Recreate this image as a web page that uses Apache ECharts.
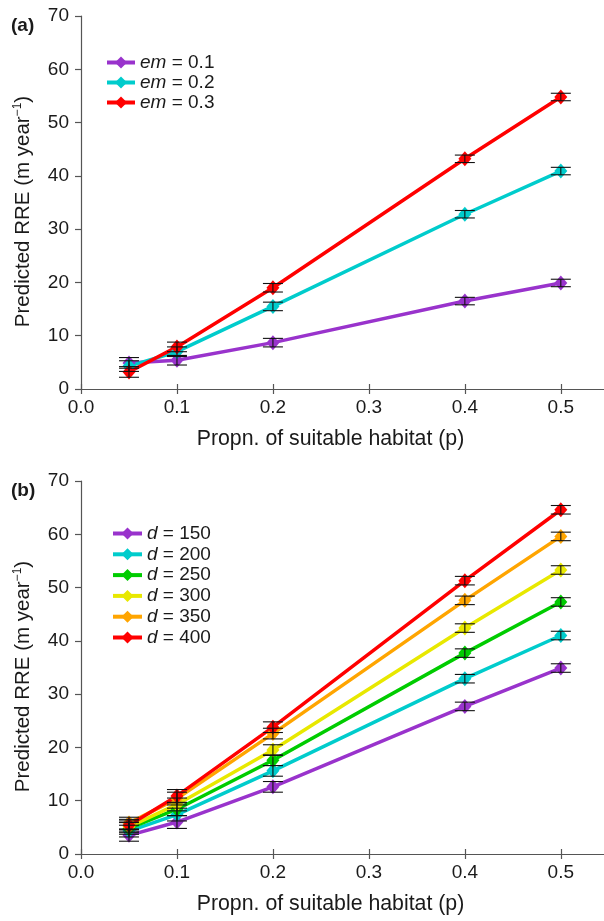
<!DOCTYPE html>
<html><head><meta charset="utf-8">
<script src="https://cdn.jsdelivr.net/npm/echarts@6/dist/echarts.min.js"></script>
<style>html,body{margin:0;padding:0;background:#fff}#c{width:604px;height:921px}</style>
</head><body><div id="c"></div>
<script>
// x categories (proportion of suitable habitat)
const pVals = [0.05, 0.1, 0.2, 0.4, 0.5];
const xTicks = [0.0, 0.1, 0.2, 0.3, 0.4, 0.5];
const yTicks = [0, 10, 20, 30, 40, 50, 60, 70];

// Panel (a)
const namesA = ['em = 0.1', 'em = 0.2', 'em = 0.3'];
const em01 = [4.9, 5.4, 8.7, 16.5, 19.9];
const em02 = [4.3, 7.0, 15.5, 32.8, 40.9];
const em03 = [3.2, 7.9, 19.0, 43.2, 54.8];
const errA01 = [1.0, 0.9, 0.8, 0.7, 0.7];
const errA02 = [1.0, 0.9, 0.8, 0.7, 0.7];
const errA03 = [1.0, 0.9, 0.8, 0.7, 0.7];

// Panel (b)
const namesB = ['d = 150', 'd = 200', 'd = 250', 'd = 300', 'd = 350', 'd = 400'];
const d150 = [3.5, 6.0, 12.6, 27.7, 34.9];
const d200 = [4.3, 7.4, 15.6, 32.9, 41.0];
const d250 = [4.8, 8.4, 17.6, 37.7, 47.3];
const d300 = [5.1, 9.3, 19.5, 42.4, 53.3];
const d350 = [5.8, 10.4, 22.6, 47.6, 59.6];
const d400 = [5.4, 10.9, 23.8, 51.3, 64.6];
const errB = [1.1, 1.2, 1.0, 0.8, 0.8];

const colorsA = ['#9933CC', '#00CCCC', '#FF0000'];
const colorsB = ['#9933CC', '#00CCCC', '#00CC00', '#E8E800', '#FFA500', '#FF0000'];

const FONT = 'Liberation Sans, Arial, sans-serif';
const TXT = '#1a1a1a';
const AX = '#555';
const XMAX = 0.545;

const chart = echarts.init(document.getElementById('c'), null, {renderer: 'canvas'});

function xAxisDef(gi, withLabel) {
  return {
    type: 'value', gridIndex: gi, min: 0, max: XMAX, interval: 0.1, position: 'bottom',
    axisLine: {show: withLabel, onZero: false, lineStyle: {color: AX, width: 1.2}},
    axisTick: {show: true, inside: !withLabel, length: 5, customValues: xTicks,
      lineStyle: {color: AX, width: 1.2}},
    axisLabel: withLabel ? {show: true, color: TXT, fontSize: 19, fontFamily: FONT, margin: 9,
      customValues: xTicks, formatter: v => v.toFixed(1)} : {show: false},
    splitLine: {show: false},
    name: withLabel ? 'Propn. of suitable habitat (p)' : '',
    nameLocation: 'middle', nameGap: 40,
    nameTextStyle: {color: TXT, fontSize: 21.3, fontFamily: FONT, padding: [0, 24, 0, 0]}
  };
}
function yAxisDef(gi) {
  return {
    type: 'value', gridIndex: gi, min: 0, max: 70, interval: 10,
    axisLine: {show: true, lineStyle: {color: AX, width: 1.2}},
    axisTick: {show: true, length: 6, lineStyle: {color: AX, width: 1.2}},
    axisLabel: {color: TXT, fontSize: 19, fontFamily: FONT, margin: 12},
    splitLine: {show: false},
    name: '{a|Predicted RRE (m year}{s|−1}{a|)}',
    nameLocation: 'middle', nameGap: 47,
    nameTextStyle: {padding: [0, 18, 0, 0], rich: {
      a: {color: TXT, fontSize: 20.5, fontFamily: FONT, lineHeight: 22, verticalAlign: 'bottom'},
      s: {color: TXT, fontSize: 12, fontFamily: FONT, lineHeight: 22, verticalAlign: 'top'}
    }}
  };
}

function lineSeries(name, vals, color, xi, yi) {
  return {
    type: 'line', name: name, xAxisIndex: xi, yAxisIndex: yi,
    data: pVals.map((p, i) => [p, vals[i]]),
    symbol: 'diamond', symbolSize: [13, 15],
    itemStyle: {color: color}, lineStyle: {color: color, width: 3.5},
    z: 2
  };
}
function errSeries(vals, errs, xi, yi) {
  return {
    type: 'custom', xAxisIndex: xi, yAxisIndex: yi, silent: true, z: 5,
    data: pVals.map((p, i) => [p, vals[i] - errs[i], vals[i] + errs[i]]),
    renderItem: function (params, api) {
      const lo = api.coord([api.value(0), api.value(1)]);
      const hi = api.coord([api.value(0), api.value(2)]);
      const hw = 10;
      const st = {stroke: '#111', lineWidth: 1.1};
      return {type: 'group', children: [
        {type: 'line', shape: {x1: lo[0], y1: lo[1], x2: hi[0], y2: hi[1]}, style: st},
        {type: 'line', shape: {x1: lo[0] - hw, y1: lo[1], x2: lo[0] + hw, y2: lo[1]}, style: st},
        {type: 'line', shape: {x1: hi[0] - hw, y1: hi[1], x2: hi[0] + hw, y2: hi[1]}, style: st}
      ]};
    }
  };
}

const seriesA = [em01, em02, em03];
const errsA = [errA01, errA02, errA03];
const seriesB = [d150, d200, d250, d300, d350, d400];

const series = [];
seriesA.forEach((v, i) => series.push(lineSeries(namesA[i], v, colorsA[i], 0, 0)));
seriesA.forEach((v, i) => series.push(errSeries(v, errsA[i], 0, 0)));
seriesB.forEach((v, i) => series.push(lineSeries(namesB[i], v, colorsB[i], 2, 1)));
seriesB.forEach((v, i) => series.push(errSeries(v, errB, 2, 1)));

function legendFmt(name) {
  const parts = name.split(' = ');
  return '{i|' + parts[0] + '}{t| = ' + parts[1] + '}';
}
const legendText = {rich: {
  i: {fontStyle: 'italic', fontSize: 19, fontFamily: FONT, color: TXT, lineHeight: 20},
  t: {fontSize: 19, fontFamily: FONT, color: TXT, lineHeight: 20}
}};

chart.setOption({
  animation: false,
  backgroundColor: '#fff',
  grid: [
    {left: 81, top: 16, width: 523, height: 373},
    {left: 81, top: 481, width: 523, height: 373}
  ],
  xAxis: [xAxisDef(0, true), xAxisDef(0, false), xAxisDef(1, true), xAxisDef(1, false)],
  yAxis: [yAxisDef(0), yAxisDef(1)],
  legend: [
    {data: namesA, orient: 'vertical', left: 105, top: 53, padding: 0, itemWidth: 28, itemHeight: 15, itemGap: 1,
      itemTextGap: 7, formatter: legendFmt, textStyle: legendText, lineStyle: {width: 4}},
    {data: namesB, orient: 'vertical', left: 111, top: 524, padding: 0, itemWidth: 29, itemHeight: 15, itemGap: 1.8,
      itemTextGap: 5, formatter: legendFmt, textStyle: legendText, lineStyle: {width: 4}}
  ],
  graphic: [
    {type: 'text', left: 11, top: 16, style: {text: '(a)', font: 'bold 19px ' + FONT, fill: TXT}},
    {type: 'text', left: 11, top: 481, style: {text: '(b)', font: 'bold 19px ' + FONT, fill: TXT}}
  ],
  series: series
});
</script></body></html>
